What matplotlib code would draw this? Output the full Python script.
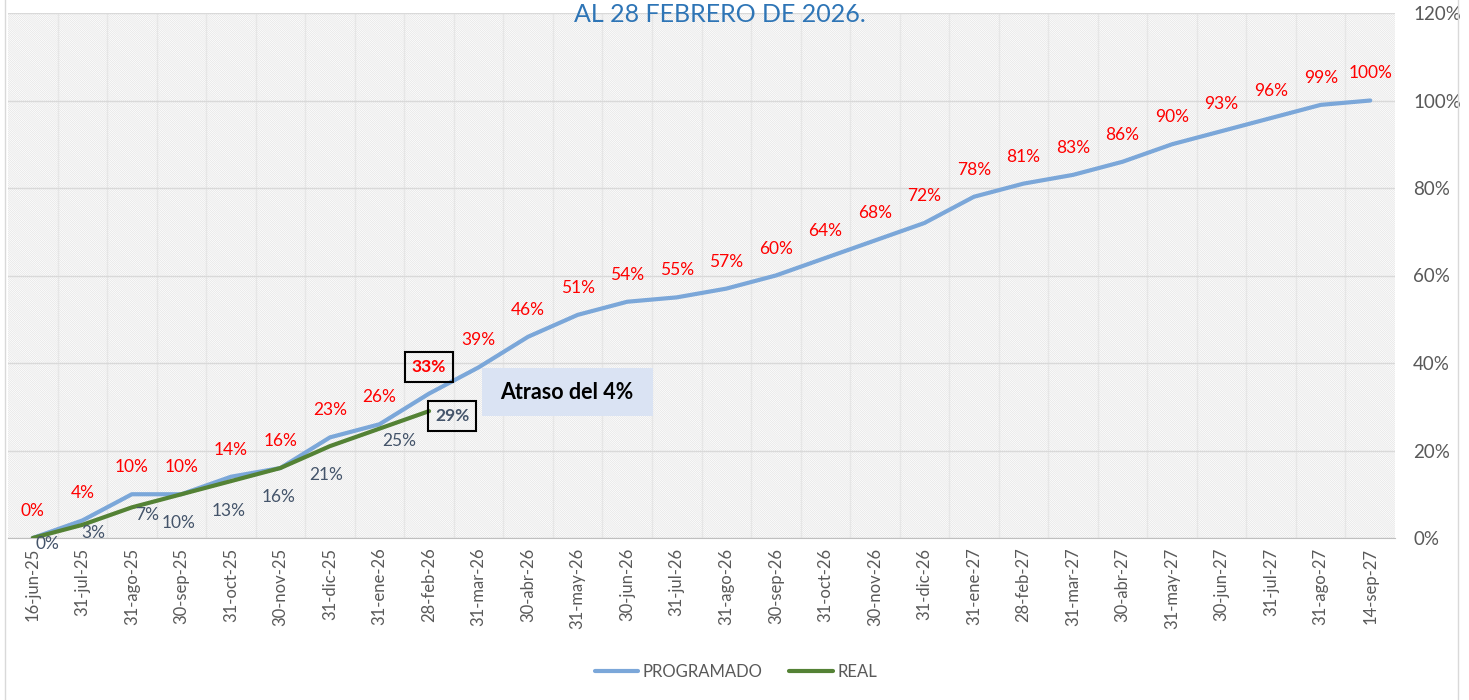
import matplotlib
matplotlib.use("Agg")
import matplotlib.pyplot as plt
from matplotlib.patches import Rectangle
from matplotlib.ticker import FuncFormatter, MultipleLocator, FixedLocator

plt.rcParams['font.family'] = ['Lato', 'DejaVu Sans']
plt.rcParams['hatch.linewidth'] = 0.5

# Datos
fechas = ['16-jun-25', '31-jul-25', '31-ago-25', '30-sep-25', '31-oct-25', '30-nov-25',
          '31-dic-25', '31-ene-26', '28-feb-26', '31-mar-26', '30-abr-26', '31-may-26',
          '30-jun-26', '31-jul-26', '31-ago-26', '30-sep-26', '31-oct-26', '30-nov-26',
          '31-dic-26', '31-ene-27', '28-feb-27', '31-mar-27', '30-abr-27', '31-may-27',
          '30-jun-27', '31-jul-27', '31-ago-27', '14-sep-27']
programado = [0, 4, 10, 10, 14, 16, 23, 26, 33, 39, 46, 51, 54, 55, 57, 60, 64, 68,
              72, 78, 81, 83, 86, 90, 93, 96, 99, 100]
real = [0, 3, 7, 10, 13, 16, 21, 25, 29]

# desplazamiento de las etiquetas de REAL (px: derecha, abajo)
desp_real = [(15, 6), (11, 8), (15, 8), (-3, 29), (-2, 30), (-2, 29), (-4, 29), (20, 12), (23, 5)]

W, H = 1469, 700
fig = plt.figure(figsize=(W / 100, H / 100), dpi=100)
ax = fig.add_axes([8 / W, (H - 538) / H, (1395 - 8) / W, (538 - 13) / H])

x = list(range(len(fechas)))

# fondo rayado
ax.set_facecolor('white')
ax.add_patch(Rectangle((0, 0), 1, 1, transform=ax.transAxes, fill=False,
                       hatch='\\' * 16, edgecolor='#e4e4e4', lw=0, zorder=0))

ax.plot(x, programado, color='#7BA7D9', lw=3, solid_capstyle='round', zorder=3, label='PROGRAMADO')
ax.plot(x[:len(real)], real, color='#548235', lw=3, solid_capstyle='round', zorder=4, label='REAL')

ax.set_xlim(-0.5, len(fechas) - 0.5)
ax.set_ylim(0, 120)

ax.yaxis.tick_right()
ax.yaxis.set_major_locator(MultipleLocator(20))
ax.yaxis.set_major_formatter(FuncFormatter(lambda v, p: f'{v:.0f}%'))
ax.tick_params(axis='y', length=0, pad=13, labelsize=13.5, labelcolor='#595959')

ax.set_xticks(x)
ax.set_xticklabels(fechas, rotation=90)
ax.tick_params(axis='x', length=0, pad=7, labelsize=12, labelcolor='#595959')
ax.xaxis.set_minor_locator(FixedLocator([i + 0.5 for i in range(len(fechas) - 1)]))

ax.grid(axis='y', which='major', color='#d9d9d9', lw=1, zorder=1)
ax.grid(axis='x', which='minor', color='#e6e6e6', lw=1, zorder=1)
ax.tick_params(which='minor', length=0)
ax.set_axisbelow(True)

for s in ['top', 'left', 'right']:
    ax.spines[s].set_visible(False)
ax.spines['bottom'].set_color('#bfbfbf')

px = 0.72  # puntos por pixel

# etiquetas PROGRAMADO
for i, v in enumerate(programado):
    if i == 8:
        ax.annotate(f'{v}%', (i, v), xytext=(0, 27 * px), textcoords='offset points',
                    ha='center', va='center', color='red', fontsize=12.5, fontweight='bold', zorder=6,
                    bbox=dict(boxstyle='square,pad=0.4', fc='none', ec='black', lw=1.5))
    else:
        ax.annotate(f'{v}%', (i, v), xytext=(0, 27 * px), textcoords='offset points',
                    ha='center', va='center', color='red', fontsize=12.5, zorder=6)

# etiquetas REAL
for i, v in enumerate(real):
    dx, dy = desp_real[i]
    if i == len(real) - 1:
        ax.annotate(f'{v}%', (i, v), xytext=(dx * px, -dy * px), textcoords='offset points',
                    ha='center', va='center', color='#44546A', fontsize=12.5, fontweight='bold', zorder=6,
                    bbox=dict(boxstyle='square,pad=0.4', fc='none', ec='black', lw=1.5))
    else:
        ax.annotate(f'{v}%', (i, v), xytext=(dx * px, -dy * px), textcoords='offset points',
                    ha='center', va='center', color='#44546A', fontsize=12.5, zorder=6)

# cuadro de atraso
fig.patches.append(Rectangle((482 / W, 1 - 416 / H), 171 / W, 48 / H, transform=fig.transFigure,
                             fc='#DAE3F3', ec='none', zorder=5))
fig.text(567 / W, 1 - 392 / H, 'Atraso del 4%', ha='center', va='center',
         fontsize=15.5, fontweight='bold', color='black', zorder=6)

# titulo (cortado arriba)
fig.text(720 / W, 1 - 15 / H, 'AL 28 FEBRERO DE 2026.', ha='center', va='center',
         fontsize=18, color='#2E75B6', zorder=7)

# borde del grafico
fig.patches.append(Rectangle((5 / W, -0.05), (1458 - 5) / W, 1.2, transform=fig.transFigure,
                             fill=False, ec='#d9d9d9', lw=1))

fig.legend(loc='center', bbox_to_anchor=(736 / W, 1 - 672 / H), ncol=2, frameon=False,
           fontsize=12, handlelength=2.6, columnspacing=1.6, handletextpad=0.3,
           labelcolor='#595959')

fig.savefig('out.png', dpi=100)
